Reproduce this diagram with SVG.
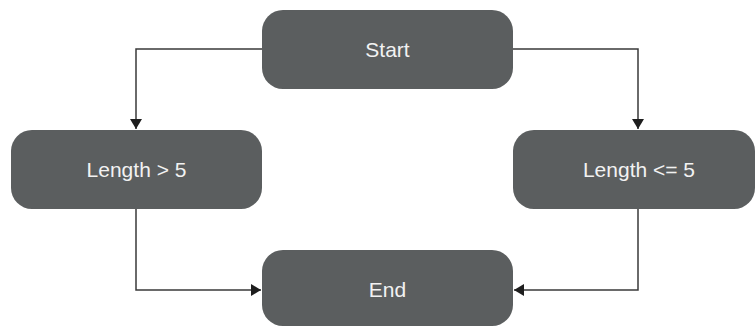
<svg xmlns="http://www.w3.org/2000/svg" width="756" height="326" viewBox="0 0 756 326">
<style>
.box{fill:#5b5e5f;}
.lbl{font-family:"Liberation Sans",Arial,sans-serif;font-size:21px;fill:#f2f2f2;text-anchor:middle;}
.edge{fill:none;stroke:#3a3a3a;stroke-width:1.5;}
</style>
<defs>
<marker id="arr" viewBox="0 0 10 12" refX="10" refY="6" markerWidth="10" markerHeight="12" markerUnits="userSpaceOnUse" orient="auto">
<path d="M0,0 L10,6 L0,12 Z" fill="#1e1e1e"/>
</marker>
</defs>
<rect width="756" height="326" fill="#ffffff"/>
<g id="connectors">
<path class="edge" d="M262,49 H136 V129" marker-end="url(#arr)"/>
<path class="edge" d="M513,49 H638 V129" marker-end="url(#arr)"/>
<path class="edge" d="M136,209 V290 H261" marker-end="url(#arr)"/>
<path class="edge" d="M638,209 V290 H514" marker-end="url(#arr)"/>
</g>
<g id="start">
<rect class="box" x="262" y="10" width="251" height="79" rx="21"/>
<text class="lbl" x="387.5" y="57">Start</text>
</g>
<g id="gt5">
<rect class="box" x="11" y="130" width="251" height="79" rx="21"/>
<text class="lbl" x="136.5" y="177">Length &gt; 5</text>
</g>
<g id="le5">
<rect class="box" x="513" y="130" width="242" height="79" rx="21"/>
<text class="lbl" x="639" y="177">Length &lt;= 5</text>
</g>
<g id="end">
<rect class="box" x="262" y="250" width="251" height="76" rx="21"/>
<text class="lbl" x="387.5" y="297">End</text>
</g>
</svg>
